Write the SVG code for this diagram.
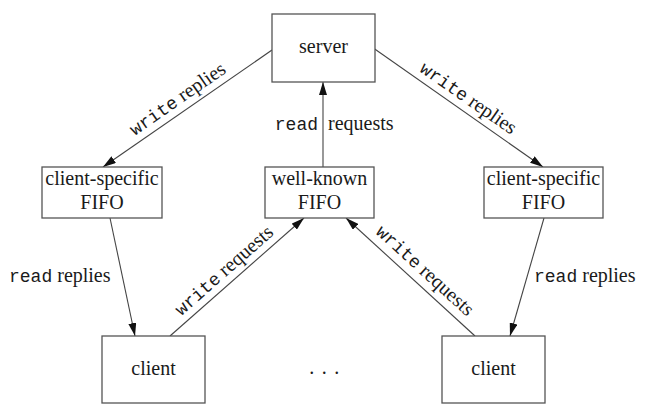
<svg xmlns="http://www.w3.org/2000/svg" width="650" height="414" viewBox="0 0 650 414">
<style>
.box{fill:#fff;stroke:#555;stroke-width:1.3}
.t{font-family:"Liberation Serif","Times New Roman",serif;font-size:20px;fill:#1a1a1a}
.c{text-anchor:middle}
.m{font-family:"Liberation Mono","Courier New",monospace;font-size:18px}
.edge{stroke:#444;stroke-width:1.1;fill:none;marker-end:url(#arr)}
</style>
<defs>
<marker id="arr" markerUnits="userSpaceOnUse" markerWidth="13" markerHeight="8" refX="13" refY="4" orient="auto">
<path d="M0,0 L13,4 L0,8 z" fill="#111"/>
</marker>
</defs>
<rect width="650" height="414" fill="#fff"/>
<g id="connectors">
<line class="edge" x1="272" y1="50" x2="103" y2="167"/>
<line class="edge" x1="374" y1="48.5" x2="543" y2="167"/>
<line class="edge" x1="323" y1="167" x2="323" y2="82"/>
<line class="edge" x1="110" y1="218" x2="135" y2="336"/>
<line class="edge" x1="544" y1="218" x2="510" y2="336"/>
<line class="edge" x1="170" y1="336" x2="304" y2="218"/>
<line class="edge" x1="475" y1="336" x2="346" y2="218"/>
<text class="t c" transform="translate(181,104) rotate(-34.7)"><tspan class="m">write</tspan> replies</text>
<text class="t c" transform="translate(465,103) rotate(34.7)"><tspan class="m">write</tspan> replies</text>
<text class="t" x="318" y="130" text-anchor="end"><tspan class="m">read</tspan></text>
<text class="t" x="328" y="130">requests</text>
<text class="t" x="9" y="282"><tspan class="m">read</tspan> replies</text>
<text class="t" x="534" y="282"><tspan class="m">read</tspan> replies</text>
<text class="t c" transform="translate(228,275) rotate(-41.4)"><tspan class="m">write</tspan> requests</text>
<text class="t c" transform="translate(421,275) rotate(42.4)"><tspan class="m">write</tspan> requests</text>
</g>
<g id="server">
<rect class="box" x="272" y="14" width="103" height="68"/>
<text class="t c" x="323.5" y="53">server</text>
</g>
<g id="fifo-left">
<rect class="box" x="42" y="167" width="120" height="51"/>
<text class="t c" x="102" y="185">client-specific</text>
<text class="t c" x="102" y="209">FIFO</text>
</g>
<g id="fifo-well-known">
<rect class="box" x="265" y="167" width="109" height="51"/>
<text class="t c" x="319.5" y="185">well-known</text>
<text class="t c" x="319.5" y="209">FIFO</text>
</g>
<g id="fifo-right">
<rect class="box" x="484" y="167" width="119" height="51"/>
<text class="t c" x="543.5" y="185">client-specific</text>
<text class="t c" x="543.5" y="209">FIFO</text>
</g>
<g id="client-left">
<rect class="box" x="102" y="336" width="103" height="67"/>
<text class="t c" x="153.5" y="375">client</text>
</g>
<g id="client-right">
<rect class="box" x="442" y="336" width="103" height="67"/>
<text class="t c" x="493.5" y="375">client</text>
</g>
<g id="ellipsis">
<text class="t c" x="328" y="374" letter-spacing="7.5">...</text>
</g>
</svg>
